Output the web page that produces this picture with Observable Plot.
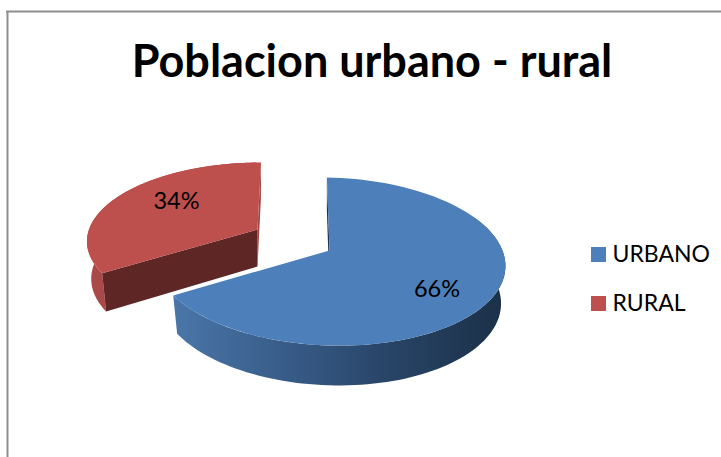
<!DOCTYPE html>
<html>
<head>
<meta charset="utf-8">
<script src="https://cdn.jsdelivr.net/npm/d3@7"></script>
<script src="https://cdn.jsdelivr.net/npm/@observablehq/plot@0.6"></script>
<style>
html,body{margin:0;padding:0;background:#fff}
svg{display:block}
</style>
</head>
<body>
<div id="chart"></div>
<script>
// Data
const chartTitle = "Poblacion urbano - rural";
const categories = ["URBANO", "RURAL"];
const shares = [66, 34];
const shareLabels = ["66%", "34%"];
const topColors = ["#4d7fbb", "#bd4f4c"];

// Layout of the drawing (not data)
const W = 721, H = 457;
const FONT = "Lato, Carlito, Calibri, sans-serif";
const views = [
  {x0: 329, y0: 250, B: 174, A: 82.6, k: 0.131, S: -3, T: 3, labelX: 436.5, labelY: 289},
  {x0: 257, y0: 229, B: 168.5, A: 75.8, k: 0.131, S: 4, T: 0, labelX: 176, labelY: 201}
];
const depth = {dz: 37, sx: 0.975, sy: 1.03};

const TAU = Math.PI * 2;
const total = d3.sum(shares);
const angles = d3.cumsum(shares).map(c => c / total * TAU);
const start = [0, angles[0]];
const end = angles;

function project(view, theta, r, level) {
  const u = Math.sin(theta) * r, v = Math.cos(theta) * r;
  const w = 1 + view.k * v;
  let X = view.x0 + (view.B * u + view.S * v) / w;
  let Y = view.y0 + (view.T * u - view.A * v) / w;
  if (level === 1) {
    X = view.x0 + (X - view.x0) * depth.sx;
    Y = view.y0 + depth.dz + (Y - view.y0) * depth.sy;
  }
  return {x: X, y: Y};
}
function arc(view, a, b, level) {
  const n = 90, pts = [];
  for (let i = 0; i <= n; i++) pts.push(project(view, a + (b - a) * i / n, 1, level));
  return pts;
}
function topFace(i) {
  const v = views[i];
  return [project(v, 0, 0, 0), ...arc(v, start[i], end[i], 0)];
}
function outerWall(i, a, b) {
  const v = views[i];
  return [...arc(v, a, b, 0), ...arc(v, a, b, 1).reverse()];
}
function cutWall(i, theta) {
  const v = views[i];
  return [project(v, theta, 1, 0), project(v, theta, 1, 1), project(v, 0, 0, 1), project(v, 0, 0, 0)];
}
const poly = (pts, fill) => Plot.line(pts, {x: "x", y: "y", fill, stroke: "none", curve: "linear"});

const gradient = () => {
  const defs = d3.create("svg:defs");
  const g = defs.append("linearGradient").attr("id", "blueWall");
  [[0, "#4a76a9"], [0.35, "#375b87"], [0.65, "#284466"], [1, "#1b3048"]].forEach(([o, c]) =>
    g.append("stop").attr("offset", o).attr("stop-color", c));
  return defs.node();
};

const frameColor = "#8e8e8e";
const legendRows = categories.map((c, i) => ({c, i}));

const plot = Plot.plot({
  width: W, height: H,
  margin: 0,
  x: {domain: [0, W], range: [0, W], axis: null},
  y: {domain: [0, H], range: [0, H], axis: null},
  color: {domain: categories, range: topColors},
  style: {background: "#fff", fontFamily: FONT, overflow: "hidden"},
  marks: [
    gradient,
    // chart frame (the right and bottom edges fall outside the picture)
    Plot.ruleX([7], {y1: 11, y2: H, stroke: frameColor, strokeWidth: 2}),
    Plot.ruleY([11], {x1: 6, x2: W, stroke: frameColor, strokeWidth: 2}),
    // rural slice
    poly(outerWall(1, start[1], Math.PI * 1.99), "#aa4a48"),
    poly(cutWall(1, end[1]), "#a34745"),
    poly(cutWall(1, start[1]), "#5f2626"),
    poly(topFace(1), topColors[1]),
    // urban slice
    poly(cutWall(0, 0), "#1f3552"),
    poly(outerWall(0, Math.PI * 0.35, end[0]), "url(#blueWall)"),
    poly(topFace(0), topColors[0]),
    // labels
    Plot.text(legendRows, {
      x: d => views[d.i].labelX, y: d => views[d.i].labelY,
      text: d => shareLabels[d.i], fontSize: 23.5, fill: "#000", textAnchor: "middle"
    }),
    // title
    Plot.text([chartTitle], {x: 371.5, y: 62, text: d => d, fontSize: 45, fontWeight: 700, fill: "#000", textAnchor: "middle"}),
    // legend
    Plot.rect(legendRows, {
      x1: 591, x2: 606,
      y1: d => 247 + d.i * 49, y2: d => 262 + d.i * 49,
      fill: "c"
    }),
    Plot.text(legendRows, {
      x: 612, y: d => 254 + d.i * 49, text: "c",
      fontSize: 23, fill: "#000", textAnchor: "start"
    })
  ]
});
document.getElementById("chart").appendChild(plot);
</script>
</body>
</html>
